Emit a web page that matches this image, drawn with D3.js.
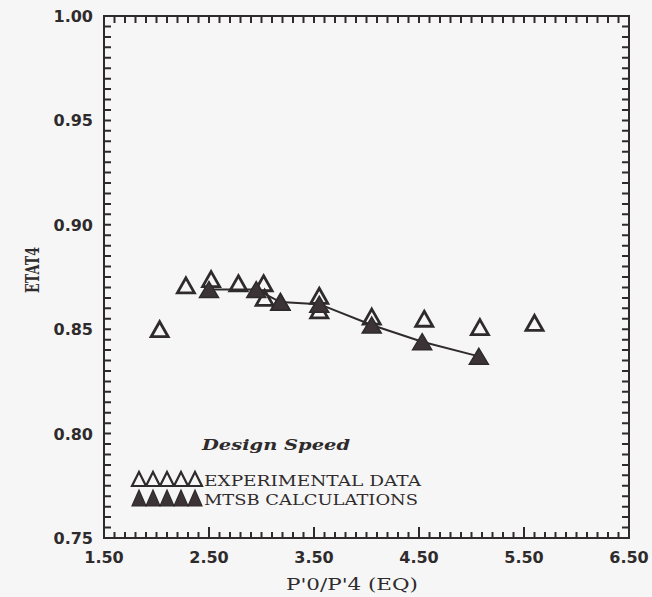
<!DOCTYPE html>
<html>
<head>
<meta charset="utf-8">
<script src="https://cdn.jsdelivr.net/npm/d3@7"></script>
<style>
  html, body { margin:0; padding:0; background:#f6f6f6; }
  svg { display:block; }
</style>
</head>
<body>
<div id="chart"></div>
<script>
// experimental data (open triangles)
var expX = [2.03, 2.28, 2.52, 2.78, 3.02, 3.03, 3.18, 3.55, 3.55, 4.05, 4.55, 5.08, 5.60];
var expY = [0.850, 0.871, 0.874, 0.872, 0.872, 0.865, 0.863, 0.866, 0.859, 0.856, 0.855, 0.851, 0.853];
// MTSB calculations (filled triangles + line)
var calcX = [2.50, 2.95, 3.18, 3.55, 4.05, 4.53, 5.07];
var calcY = [0.869, 0.869, 0.863, 0.862, 0.852, 0.844, 0.837];

var xLabels = ["1.50", "2.50", "3.50", "4.50", "5.50", "6.50"];
var yLabels = ["0.75", "0.80", "0.85", "0.90", "0.95", "1.00"];
var legendNames = ["EXPERIMENTAL DATA", "MTSB CALCULATIONS"];

var W = 652, H = 597;
var pLeft = 104, pRight = 629, pTop = 16, pBottom = 538;
var ink = "#2f2b2c";

var x = d3.scaleLinear().domain([1.5, 6.5]).range([pLeft, pRight]);
var y = d3.scaleLinear().domain([0.75, 1.0]).range([pBottom, pTop]);

var svg = d3.select("#chart").append("svg")
  .attr("width", W)
  .attr("height", H);

// frame
svg.append("rect")
  .attr("x", pLeft).attr("y", pTop)
  .attr("width", pRight - pLeft).attr("height", pBottom - pTop)
  .attr("fill", "none").attr("stroke", ink).attr("stroke-width", 2);

// minor tick positions
var xMinor = d3.range(0, 51).map(function(i) { return 1.5 + i * 0.1; });
var yMinor = d3.range(0, 51).map(function(i) { return 0.75 + i * 0.005; });
var xMajor = xLabels.map(Number);

// ticks as one path per side
function tickPath(vals, horiz, at, len) {
  var p = d3.path();
  vals.forEach(function(v) {
    if (horiz) { p.moveTo(at, y(v)); p.lineTo(at + len, y(v)); }
    else { p.moveTo(x(v), at); p.lineTo(x(v), at + len); }
  });
  svg.append("path")
    .attr("d", p.toString())
    .attr("fill", "none")
    .attr("stroke", ink)
    .attr("stroke-width", 2);
}
tickPath(xMinor, false, pBottom, -6);
tickPath(xMajor, false, pBottom, -11);
tickPath(xMinor, false, pTop, 7);
tickPath(yMinor, true, pLeft, 7);
tickPath(yMinor, true, pRight, -7);

// tick labels
svg.append("g").selectAll("text")
  .data(xLabels).enter().append("text")
  .attr("x", function(d) { return x(+d); })
  .attr("y", 563)
  .attr("text-anchor", "middle")
  .attr("font-family", "DejaVu Sans")
  .attr("font-weight", "bold")
  .attr("font-size", "16px")
  .attr("fill", ink)
  .text(function(d) { return d; });

svg.append("g").selectAll("text")
  .data(yLabels).enter().append("text")
  .attr("x", 93)
  .attr("y", function(d) { return y(+d) + 6; })
  .attr("text-anchor", "end")
  .attr("font-family", "DejaVu Sans")
  .attr("font-weight", "bold")
  .attr("font-size", "16px")
  .attr("fill", ink)
  .text(function(d) { return d; });

// axis titles
svg.append("text")
  .attr("x", 352).attr("y", 590)
  .attr("text-anchor", "middle")
  .attr("font-family", "DejaVu Serif")
  .attr("font-size", "16px")
  .attr("textLength", 132).attr("lengthAdjust", "spacingAndGlyphs")
  .attr("fill", ink)
  .text("P'0/P'4 (EQ)");

svg.append("text")
  .attr("transform", "translate(39,270) rotate(-90)")
  .attr("text-anchor", "middle")
  .attr("font-family", "DejaVu Serif")
  .attr("font-weight", "bold")
  .attr("font-size", "18px")
  .attr("textLength", 46).attr("lengthAdjust", "spacingAndGlyphs")
  .attr("fill", ink)
  .text("ETAT4");

function tri(cx, cy, w, h) {
  return "M" + cx + "," + (cy - h / 2) +
    "L" + (cx + w / 2) + "," + (cy + h / 2) +
    "L" + (cx - w / 2) + "," + (cy + h / 2) + "Z";
}

var calc = calcX.map(function(v, i) { return {x: v, y: calcY[i]}; });
var exp = expX.map(function(v, i) { return {x: v, y: expY[i]}; });

// calculation line
svg.append("path")
  .datum(calc)
  .attr("d", d3.line().x(function(d) { return x(d.x); }).y(function(d) { return y(d.y); }))
  .attr("fill", "none")
  .attr("stroke", ink)
  .attr("stroke-width", 2);

svg.append("g").selectAll("path")
  .data(exp).enter().append("path")
  .attr("d", function(d) { return tri(x(d.x), y(d.y), 17, 15); })
  .attr("fill", "none")
  .attr("stroke", ink)
  .attr("stroke-width", 2.8);

svg.append("g").selectAll("path")
  .data(calc).enter().append("path")
  .attr("d", function(d) { return tri(x(d.x), y(d.y), 19, 16); })
  .attr("fill", "#3b3336")
  .attr("stroke", ink)
  .attr("stroke-width", 1.5);

// legend
svg.append("text")
  .attr("x", 202).attr("y", 450)
  .attr("font-family", "DejaVu Serif")
  .attr("font-weight", "bold")
  .attr("font-style", "italic")
  .attr("font-size", "15px")
  .attr("textLength", 148).attr("lengthAdjust", "spacingAndGlyphs")
  .attr("fill", ink)
  .text("Design Speed");

var legendRows = [
  {name: legendNames[0], cy: 479, filled: false},
  {name: legendNames[1], cy: 498, filled: true}
];
legendRows.forEach(function(r) {
  var g = svg.append("g");
  g.selectAll("path").data(d3.range(5)).enter().append("path")
    .attr("d", function(i) { return tri(139 + i * 14, r.cy, 14, r.filled ? 16 : 14); })
    .attr("fill", r.filled ? "#3b3336" : "none")
    .attr("stroke", ink)
    .attr("stroke-width", r.filled ? 1.2 : 2.2);
  g.append("text")
    .attr("x", 204).attr("y", r.cy + 7)
    .attr("font-family", "DejaVu Serif")
    .attr("font-size", "15px")
    .attr("textLength", r.filled ? 214 : 217).attr("lengthAdjust", "spacingAndGlyphs")
    .attr("fill", ink)
    .text(r.name);
});
</script>
</body>
</html>
